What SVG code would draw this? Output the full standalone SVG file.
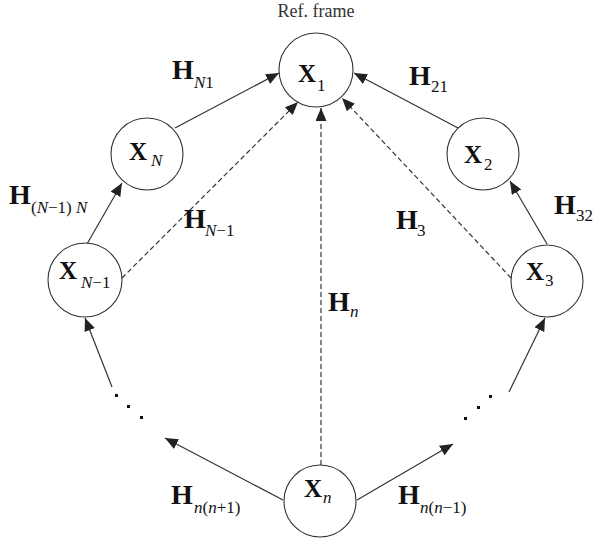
<svg xmlns="http://www.w3.org/2000/svg" width="594" height="540" viewBox="0 0 594 540">
<defs>
<marker id="ah" markerUnits="userSpaceOnUse" markerWidth="14" markerHeight="12" refX="13" refY="5.5" orient="auto">
<path d="M0,0 L13,5.5 L0,11 z" fill="#222" stroke="none"/>
</marker>
<style>
.nd{fill:#fff;stroke:#333;stroke-width:1.1}
.ln{fill:none;stroke:#333;stroke-width:1.2;marker-end:url(#ah)}
.ds{stroke-dasharray:5 3}
.X{font-family:"Liberation Serif",serif;font-weight:bold;font-size:25px;fill:#111}
.H{font-family:"Liberation Serif",serif;font-weight:bold;font-size:28px;fill:#111}
.s{font-family:"Liberation Serif",serif;font-size:17px;fill:#111}
.i{font-style:italic}
.rf{font-family:"Liberation Serif",serif;font-size:18px;fill:#333}
.dot{fill:#111}
</style>
</defs>
<rect width="594" height="540" fill="#fff"/>
<text class="rf" x="316" y="17" text-anchor="middle">Ref. frame</text>
<g id="connectors">
<line class="ln" x1="175" y1="128" x2="279" y2="73"/>
<line class="ln" x1="458" y1="128" x2="354" y2="73"/>
<line class="ln" x1="87" y1="244" x2="122" y2="183"/>
<line class="ln" x1="547" y1="244" x2="510" y2="181"/>
<line class="ln ds" x1="122" y1="278" x2="298" y2="102"/>
<line class="ln ds" x1="511" y1="278" x2="342" y2="98"/>
<line class="ln ds" x1="321" y1="465" x2="321" y2="108"/>
<line class="ln" x1="112" y1="387" x2="85" y2="318"/>
<line class="ln" x1="509" y1="392" x2="545" y2="318"/>
<line class="ln" x1="283" y1="500" x2="165" y2="438"/>
<line class="ln" x1="357" y1="500" x2="453" y2="444"/>
</g>
<g id="dots-left">
<rect class="dot" x="115" y="394" width="3" height="3"/>
<rect class="dot" x="127" y="405" width="3" height="3"/>
<rect class="dot" x="140" y="416" width="3" height="3"/>
</g>
<g id="dots-right">
<rect class="dot" x="489" y="395" width="3" height="3"/>
<rect class="dot" x="477" y="406" width="3" height="3"/>
<rect class="dot" x="464" y="417" width="3" height="3"/>
</g>
<g id="X1">
<circle class="nd" cx="316" cy="70" r="37"/>
<text class="X" x="298" y="82">X</text><text class="s" x="317" y="91">1</text>
</g>
<g id="XN">
<circle class="nd" cx="147" cy="154" r="36"/>
<text class="X" x="129" y="160">X</text><text class="s i" x="151" y="166">N</text>
</g>
<g id="XNm1">
<circle class="nd" cx="85" cy="280" r="37"/>
<text class="X" x="59" y="279">X</text><text class="s" x="81" y="288"><tspan class="i">N</tspan>−1</text>
</g>
<g id="X2">
<circle class="nd" cx="483" cy="154" r="36"/>
<text class="X" x="464" y="163">X</text><text class="s" x="484" y="170">2</text>
</g>
<g id="X3">
<circle class="nd" cx="547" cy="281" r="36"/>
<text class="X" x="526" y="280">X</text><text class="s" x="545" y="286">3</text>
</g>
<g id="Xn">
<circle class="nd" cx="320" cy="501" r="36"/>
<text class="X" x="304" y="497">X</text><text class="s i" x="323" y="503">n</text>
</g>
<g id="labels">
<text class="H" x="172" y="79">H</text><text class="s" x="194" y="88"><tspan class="i">N</tspan>1</text>
<text class="H" x="409" y="85">H</text><text class="s" x="431" y="92">21</text>
<text class="H" x="9" y="204">H</text><text class="s" x="31" y="213">(<tspan class="i">N</tspan>−1) <tspan class="i">N</tspan></text>
<text class="H" x="184" y="228">H</text><text class="s" x="205" y="236"><tspan class="i">N</tspan>−1</text>
<text class="H" x="396" y="229">H</text><text class="s" x="417" y="236">3</text>
<text class="H" x="554" y="214">H</text><text class="s" x="576" y="221">32</text>
<text class="H" x="328" y="311">H</text><text class="s i" x="350" y="317">n</text>
<text class="H" x="171" y="504">H</text><text class="s" x="194" y="513"><tspan class="i">n</tspan>(<tspan class="i">n</tspan>+1)</text>
<text class="H" x="398" y="504">H</text><text class="s" x="420" y="513"><tspan class="i">n</tspan>(<tspan class="i">n</tspan>−1)</text>
</g>
</svg>
